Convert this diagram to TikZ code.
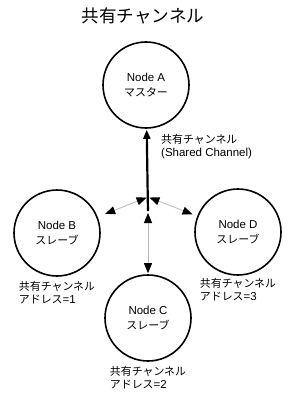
\documentclass[tikz,border=0pt]{standalone}
\usepackage{fontspec}
\setmainfont{Liberation Sans}
\newfontfamily\jp{Noto Sans CJK JP}[Scale=0.95]
\usetikzlibrary{arrows.meta,positioning}

\begin{document}
\begin{tikzpicture}[
    x=1pt,y=-1pt,>={Triangle[length=9pt,width=7pt]},
    every node/.style={font=\fontsize{11.5}{15}\selectfont},
    unit/.style={draw,circle,line width=1.6pt,minimum size=86pt,align=center,inner sep=0pt},
    addr/.style={align=left,inner sep=1pt,font=\fontsize{11.5}{13}\selectfont},
    link/.style={<->,gray!55,line width=0.8pt,>={Triangle[length=10pt,width=8pt,color=black]}},
    bus/.style={->,line width=2.2pt}
  ]
  \useasboundingbox (0,0) rectangle (300,398);
  \node[font=\jp\fontsize{18.5}{20}\selectfont] (title) at (143,16) {共有チャンネル};
  % master and slaves
  \node[unit] (A) at (146,85) {Node A\\{\jp マスター}};
  \node[unit] (B) at (57,233) {Node B\\{\jp スレーブ}};
  \node[unit] (D) at (238,232) {Node D\\{\jp スレーブ}};
  \node[unit] (C) at (148,318) {Node C\\{\jp スレーブ}};
  % addresses
  \node[addr,below=3pt of B] (Baddr) {{\jp 共有チャンネル}\\{\jp アドレス}=1};
  \node[addr,below=1pt of D] (Daddr) {{\jp 共有チャンネル}\\{\jp アドレス}=3};
  \node[addr,below=3pt of C] (Caddr) {{\jp 共有チャンネル}\\{\jp アドレス}=2};
  \node[addr,anchor=west] (share) at (160,147) {{\jp 共有チャンネル}\\(Shared Channel)};
  % channel
  \coordinate (hub) at (148,197);
  \coordinate (base) at (148,213);
  \draw[bus,shorten <=2pt,shorten >=1pt] (base) -- (A);
  \draw[link,shorten <=1.5pt,shorten >=8pt] (hub) -- (B);
  \draw[link,shorten <=1.5pt,shorten >=5pt] (hub) -- (D);
  \draw[link,shorten >=1pt] (base) -- (C);
\end{tikzpicture}
\end{document}
